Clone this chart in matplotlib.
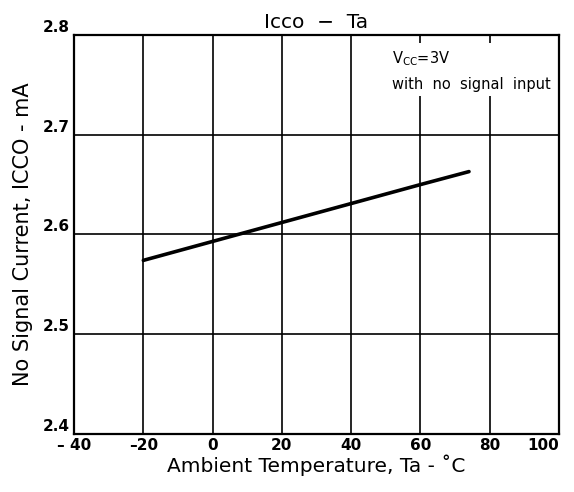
import matplotlib.pyplot as plt

# Icco vs ambient temperature
temp = [-20, 0, 20, 40, 60, 74]
icco = [2.574, 2.593, 2.612, 2.631, 2.650, 2.663]

xticks = [-40, -20, 0, 20, 40, 60, 80, 100]
xlabels = ['– 40', '–20', '0', '20', '40', '60', '80', '100']
yticks = [2.4, 2.5, 2.6, 2.7, 2.8]
ylabels = ['2.4', '2.5', '2.6', '2.7', '2.8']

fig = plt.figure(figsize=(5.74, 4.92), dpi=100)
ax = fig.add_axes([0.129, 0.118, 0.845, 0.811])

ax.plot(temp, icco, color='black', lw=2.6, solid_capstyle='round', zorder=3)

ax.set_xlim(-40, 100)
ax.set_ylim(2.4, 2.8)
ax.set_xticks(xticks)
ax.set_xticklabels(xlabels, fontsize=11, fontweight='bold')
ax.set_yticks(yticks)
ax.set_yticklabels(ylabels, fontsize=11, fontweight='bold')
ax.tick_params(length=0, pad=3)
for lab in ax.get_yticklabels():
    lab.set_verticalalignment('bottom')
ax.get_xticklabels()[-1].set_horizontalalignment('right')
ax.get_xticklabels()[-1].set_x(100)

ax.grid(True, color='black', lw=1.2)
ax.set_axisbelow(True)
for s in ax.spines.values():
    s.set_linewidth(1.6)

ax.set_title('Icco  −  Ta', fontsize=14.5, pad=5)
ax.set_xlabel('Ambient Temperature, Ta - ˚C', fontsize=14.5, labelpad=1)
ax.set_ylabel('No Signal Current, ICCO - mA', fontsize=15, labelpad=7)

ax.text(0.655, 0.965, 'V$_{\\mathrm{CC}}$=3V\nwith  no  signal  input', transform=ax.transAxes,
        fontsize=10.5, va='top', ha='left', linespacing=1.75,
        bbox=dict(facecolor='white', edgecolor='none', pad=3), zorder=4)

plt.savefig('out.png', dpi=100)
